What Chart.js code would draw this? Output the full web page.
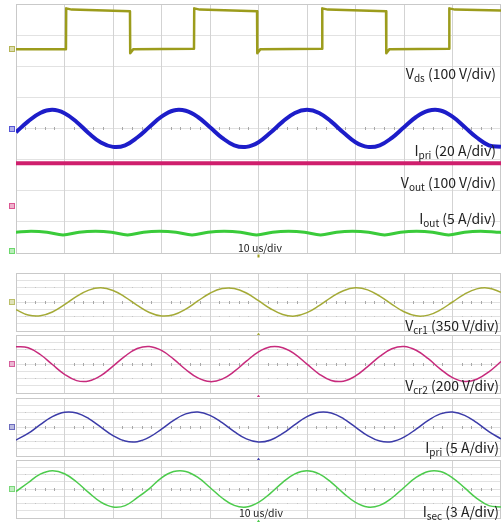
<!DOCTYPE html>
<html>
<head>
<meta charset="utf-8">
<script src="https://cdn.jsdelivr.net/npm/chart.js@4.4.1/dist/chart.umd.min.js"></script>
<style>
  html, body { margin: 0; padding: 0; background: #fff; }
  body { position: relative; width: 502px; height: 523px; overflow: hidden;
         font-family: "Noto Sans CJK KR", "Noto Sans", sans-serif; color: #222; }
  canvas { position: absolute; left: 0; }
  .lbl { position: absolute; font-size: 14px; line-height: 14px; white-space: nowrap; }
  .lbl sub { font-size: 10px; line-height: 0; vertical-align: -3px; }
  .tb { position: absolute; font-size: 10.5px; line-height: 11px; white-space: nowrap; }
</style>
</head>
<body>
<canvas id="scopeTop" width="502" height="260" style="top:0"></canvas>
<canvas id="scopeVcr1" width="502" height="63" style="top:272px"></canvas>
<canvas id="scopeVcr2" width="502" height="63" style="top:334px"></canvas>
<canvas id="scopeIpri" width="502" height="63" style="top:397px"></canvas>
<canvas id="scopeIsec" width="502" height="63" style="top:459px"></canvas>

<div class="lbl" style="top:66px;right:6px">V<sub>ds</sub> (100 V/div)</div>
<div class="lbl" style="top:143px;right:6px">I<sub>pri</sub> (20 A/div)</div>
<div class="lbl" style="top:175px;right:6px">V<sub>out</sub> (100 V/div)</div>
<div class="lbl" style="top:211px;right:6px">I<sub>out</sub> (5 A/div)</div>
<div class="tb" style="top:242px;left:238px">10 us/div</div>

<div class="lbl" style="top:318px;right:3px">V<sub>cr1</sub> (350 V/div)</div>
<div class="lbl" style="top:378px;right:3px">V<sub>cr2</sub> (200 V/div)</div>
<div class="lbl" style="top:440px;right:3px">I<sub>pri</sub> (5 A/div)</div>
<div class="lbl" style="top:504px;right:3px">I<sub>sec</sub> (3 A/div)</div>
<div class="tb" style="top:507px;left:239px">10 us/div</div>

<script>
// Time base: 10 us/div, 10 divisions across the screen (0..100 us)
const times = [0, 2.5, 5, 7.5, 10, 12.5, 15, 17.5, 20, 22.5, 25, 27.5, 30, 32.5, 35, 37.5, 40,
  42.5, 45, 47.5, 50, 52.5, 55, 57.5, 60, 62.5, 65, 67.5, 70, 72.5, 75, 77.5, 80, 82.5, 85,
  87.5, 90, 92.5, 95, 97.5, 100];

// Upper screen, values in divisions from screen centre
const vdsTime  = [0, 10.3, 10.35, 11.5, 23.5, 23.55, 24.2, 36.7, 36.75, 37.9, 49.7, 49.75, 50.4,
  63.1, 63.15, 64.3, 76.3, 76.35, 77.0, 89.3, 89.35, 90.5, 100];
const vdsLevel = [2.55, 2.55, 3.86, 3.82, 3.77, 2.42, 2.55, 2.56, 3.86, 3.82, 3.77, 2.42, 2.55,
  2.56, 3.86, 3.82, 3.77, 2.42, 2.55, 2.56, 3.86, 3.82, 3.79];

const ipriTop = [-0.12, 0.23, 0.50, 0.60, 0.49, 0.21, -0.15, -0.45, -0.59, -0.54, -0.29, 0.05,
  0.38, 0.58, 0.57, 0.37, 0.04, -0.30, -0.54, -0.59, -0.44, -0.13, 0.22, 0.50, 0.60, 0.50, 0.22,
  -0.13, -0.44, -0.59, -0.54, -0.30, 0.04, 0.37, 0.57, 0.58, 0.38, 0.05, -0.29, -0.54, -0.59];

const voutTime  = [0, 25, 50, 75, 100];
const voutLevel = [-1.12, -1.12, -1.12, -1.12, -1.12];

const ioutTime  = [0, 3.1, 6.4, 9.7, 13.0, 16.4, 19.7, 23.0, 26.3, 29.6, 33.0, 36.3, 39.6, 42.9,
  46.3, 49.6, 52.9, 56.2, 59.5, 62.8, 66.1, 69.4, 72.7, 76.0, 79.3, 82.6, 85.9, 89.2, 92.5, 95.8,
  99.1, 100];
const ioutLevel = [-3.33, -3.30, -3.33, -3.42, -3.33, -3.30, -3.33, -3.42, -3.33, -3.30, -3.33,
  -3.42, -3.33, -3.30, -3.33, -3.42, -3.33, -3.30, -3.33, -3.42, -3.33, -3.30, -3.33, -3.42,
  -3.33, -3.30, -3.33, -3.42, -3.33, -3.30, -3.33, -3.34];

// Lower screens (resonant tank waveforms), divisions from each screen's centre
const vcr1 = [-1.05, -1.79, -1.91, -1.38, -0.37, 0.77, 1.64, 1.95, 1.59, 0.68, -0.46, -1.44,
  -1.93, -1.75, -0.98, 0.14, 1.21, 1.86, 1.87, 1.24, 0.19, -0.93, -1.73, -1.94, -1.47, -0.50,
  0.64, 1.56, 1.95, 1.67, 0.81, -0.32, -1.35, -1.91, -1.81, -1.09, 0.00, 1.09, 1.81, 1.91, 1.35];
const vcr2 = [2.39, 2.23, 1.31, -0.07, -1.42, -2.29, -2.35, -1.61, -0.30, 1.10, 2.13, 2.42,
  1.87, 0.67, -0.76, -1.92, -2.43, -2.09, -1.03, 0.39, 1.67, 2.37, 2.25, 1.36, -0.02, -1.38,
  -2.27, -2.37, -1.65, -0.36, 1.05, 2.10, 2.42, 1.90, 0.73, -0.70, -1.89, -2.42, -2.11, -1.08, 0.33];
const ipriBot = [-1.79, -0.89, 0.33, 1.43, 2.03, 1.93, 1.16, -0.02, -1.19, -1.94, -2.02, -1.40,
  -0.29, 0.92, 1.81, 2.07, 1.61, 0.59, -0.63, -1.64, -2.08, -1.79, -0.89, 0.33, 1.43, 2.03, 1.93,
  1.16, -0.02, -1.19, -1.94, -2.02, -1.40, -0.29, 0.92, 1.81, 2.07, 1.61, 0.59, -0.63, -1.64];
const isec = [-0.35, 0.86, 2.05, 2.52, 2.11, 0.97, -0.51, -1.81, -2.48, -2.29, -1.20, 0.05,
  1.54, 2.40, 2.42, 1.59, 0.21, -1.24, -2.26, -2.49, -1.85, -0.57, 0.92, 2.08, 2.52, 2.08, 0.92,
  -0.57, -1.85, -2.49, -2.26, -1.24, 0.21, 1.59, 2.42, 2.40, 1.54, 0.15, -1.29, -2.29, -2.48];

const COL = {
  vds: '#9c9c1c', ipri: '#1d1dc9', vout: '#cf1f6d', iout: '#3acb3a',
  vcr1: '#a4aa36', vcr2: '#c72a7c', ipri2: '#3b3ba8', isec: '#4ccb4c'
};

const pts = (xs, ys) => xs.map((x, i) => ({ x: x, y: ys[i] }));

// Oscilloscope graticule: border, division lines, centre-line ticks, channel tags, trigger mark
const scopeGrid = {
  id: 'scopeGrid',
  beforeDatasetsDraw(chart, args, o) {
    const { ctx, chartArea: a, scales: { x, y } } = chart;
    const px = v => Math.floor(x.getPixelForValue(v)) + 0.5;
    const py = v => Math.floor(y.getPixelForValue(v)) + 0.5;
    ctx.save();
    ctx.lineWidth = 1;
    // horizontal division lines
    ctx.strokeStyle = '#e2e2e2';
    for (let v = -3; v <= 3; v++) {
      ctx.beginPath(); ctx.moveTo(a.left, py(v)); ctx.lineTo(a.right, py(v)); ctx.stroke();
    }
    // vertical division lines
    ctx.strokeStyle = '#d3d3d3';
    for (let t = 10; t < 100; t += 10) {
      ctx.beginPath(); ctx.moveTo(px(t), a.top); ctx.lineTo(px(t), a.bottom); ctx.stroke();
    }
    // minor ticks on the horizontal centre line
    ctx.strokeStyle = '#a8a8a8';
    const yc = py(0);
    for (let t = 2; t < 100; t += 2) {
      if (t % 10 === 0) continue;
      const xx = px(t);
      ctx.beginPath(); ctx.moveTo(xx, yc - 1.5); ctx.lineTo(xx, yc + 1.5); ctx.stroke();
      if (o.dotRows) {
        o.dotRows.forEach(r => { ctx.fillStyle = '#c4c4c4'; ctx.fillRect(xx - 0.5, py(r) - 0.5, 1, 1); });
      }
    }
    // border
    ctx.strokeStyle = '#c9c9c9';
    ctx.strokeRect(Math.floor(a.left) + 0.5, Math.floor(a.top) + 0.5,
      Math.floor(a.right) - Math.floor(a.left) - 1, Math.floor(a.bottom) - Math.floor(a.top));
    ctx.restore();
  },
  afterDraw(chart, args, o) {
    const { ctx, chartArea: a, scales: { x, y } } = chart;
    ctx.save();
    (o.tags || []).forEach(tg => {
      const yy = Math.round(y.getPixelForValue(tg.y));
      ctx.globalAlpha = 0.75;
      ctx.strokeStyle = tg.color; ctx.lineWidth = 1;
      ctx.strokeRect(9.5, yy - 2.5, 5, 5);
      ctx.fillStyle = tg.color; ctx.globalAlpha = 0.35;
      ctx.fillRect(10, yy - 2, 4, 4);
    });
    ctx.globalAlpha = 1;
    if (o.trig) {
      const xx = x.getPixelForValue(50);
      const yb = a.bottom + 1.5;
      ctx.fillStyle = o.trig.color;
      ctx.beginPath();
      if (o.trig.small) {
        ctx.fillRect(xx - 1, yb, 2, 3);
      } else {
        ctx.moveTo(xx, yb); ctx.lineTo(xx + 2.5, yb + 4); ctx.lineTo(xx - 2.5, yb + 4); ctx.closePath(); ctx.fill();
      }
    }
    ctx.restore();
  }
};

function makeScope(id, datasets, padding, grid) {
  return new Chart(document.getElementById(id), {
    type: 'line',
    data: { datasets: datasets },
    options: {
      responsive: false,
      animation: false,
      events: [],
      layout: { padding: padding },
      scales: {
        x: { type: 'linear', min: 0, max: 100, display: false },
        y: { type: 'linear', min: -4, max: 4, display: false }
      },
      elements: { point: { radius: 0 } },
      plugins: { legend: { display: false }, tooltip: { enabled: false }, scopeGrid: grid }
    },
    plugins: [scopeGrid]
  });
}

function trace(data, color, width, tension) {
  return { data: data, borderColor: color, borderWidth: width, tension: tension,
           fill: false, pointRadius: 0, borderJoinStyle: 'round', borderCapStyle: 'butt' };
}

makeScope('scopeTop', [
  trace(pts(vdsTime, vdsLevel), COL.vds, 2.5, 0),
  trace(pts(times, ipriTop), COL.ipri, 4, 0.4),
  trace(pts(voutTime, voutLevel), COL.vout, 4, 0),
  trace(pts(ioutTime, ioutLevel), COL.iout, 3, 0.35)
], { left: 16, right: 1, top: 4, bottom: 7 }, {
  tags: [{ y: 2.55, color: COL.vds }, { y: 0, color: COL.ipri },
         { y: -2.5, color: COL.vout }, { y: -3.95, color: COL.iout }],
  trig: { color: COL.vds, small: true }
});

const lowPad = { left: 16, right: 1, top: 1, bottom: 4 };
makeScope('scopeVcr1', [trace(pts(times, vcr1), COL.vcr1, 1.5, 0.4)], lowPad,
  { tags: [{ y: 0, color: COL.vcr1 }], trig: { color: COL.vcr1 }, dotRows: [-2, 2] });
makeScope('scopeVcr2', [trace(pts(times, vcr2), COL.vcr2, 1.5, 0.4)], lowPad,
  { tags: [{ y: 0, color: COL.vcr2 }], trig: { color: COL.vcr2 }, dotRows: [-2, 2] });
makeScope('scopeIpri', [trace(pts(times, ipriBot), COL.ipri2, 1.5, 0.4)], lowPad,
  { tags: [{ y: 0, color: COL.ipri2 }], trig: { color: COL.ipri2 }, dotRows: [-2, 2] });
makeScope('scopeIsec', [trace(pts(times, isec), COL.isec, 1.5, 0.4)], lowPad,
  { tags: [{ y: 0, color: COL.isec }], trig: { color: COL.isec }, dotRows: [-2, 2] });
</script>
</body>
</html>
